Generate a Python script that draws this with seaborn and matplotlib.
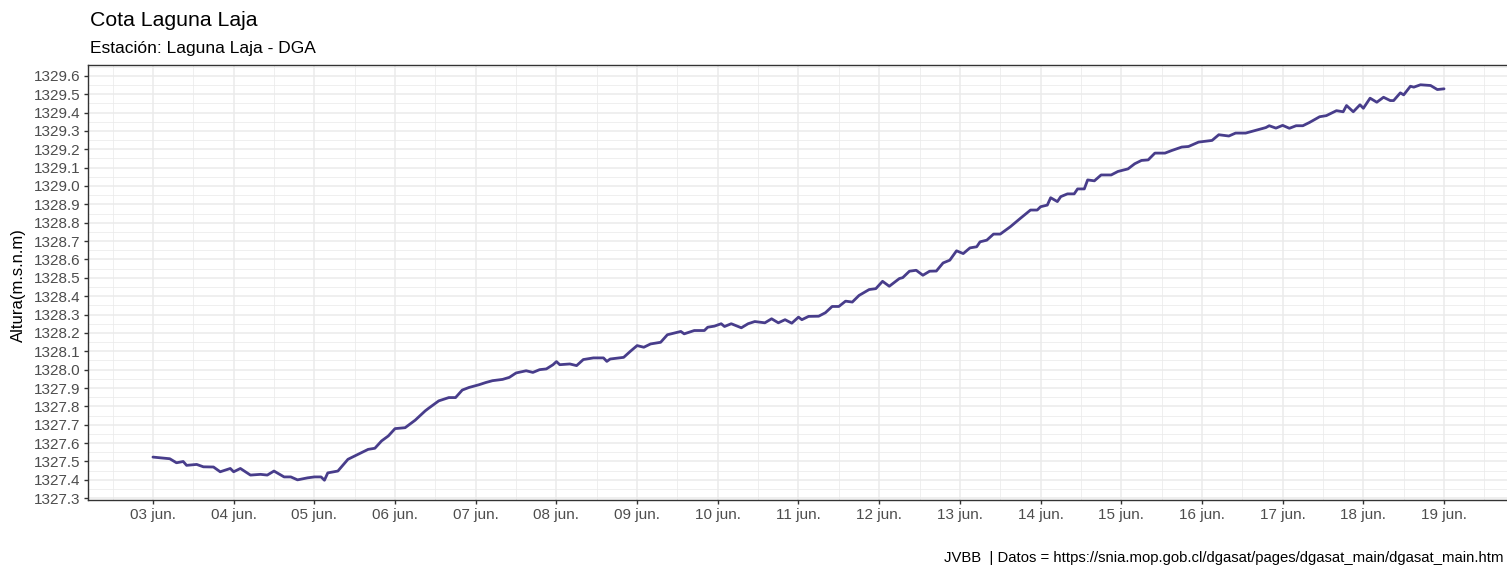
import matplotlib
matplotlib.use("Agg")
import matplotlib.pyplot as plt
import matplotlib.dates as mdates
from matplotlib.ticker import FixedLocator
import numpy as np
import pandas as pd
import seaborn as sns

# Lake level readings: hours since 03 jun 00:00 and water level (m.s.n.m)
hours = [
    0, 5, 7, 9, 10, 13, 15, 18, 20, 23, 24, 26, 29, 32, 34, 36, 39, 41, 43, 46,
    48, 50, 51, 52, 55, 58, 61, 64, 66, 68, 70, 72, 75, 78, 81, 82, 85, 88, 90, 92,
    94, 97, 99, 101, 104, 106, 108, 111, 113, 115, 117, 119, 120, 121, 124, 126, 128, 131, 134, 135,
    136, 140, 142, 144, 146, 148, 151, 153, 157, 158, 161, 164, 165, 167, 169, 170, 172, 175, 177, 179,
    182, 184, 186, 188, 190, 192, 193, 195, 198, 200, 202, 204, 206, 208, 210, 213, 215, 217, 219, 222,
    223, 225, 227, 229, 231, 233, 235, 237, 239, 241, 243, 245, 246, 248, 250, 252, 255, 258, 261, 263,
    264, 266, 267, 269, 270, 272, 274, 275, 277, 278, 280, 282, 285, 287, 290, 292, 294, 296, 298, 301,
    303, 306, 308, 311, 315, 317, 320, 322, 325, 328, 331, 332, 334, 336, 338, 340, 342, 344, 347, 349,
    351, 352, 354, 355, 357, 359, 360, 362, 364, 366, 368, 369, 371, 372, 374, 375, 377, 380, 382, 384,
]
levels = [
    1327.524, 1327.515, 1327.493, 1327.500, 1327.479, 1327.484, 1327.471, 1327.470, 1327.444, 1327.462,
    1327.444, 1327.462, 1327.426, 1327.430, 1327.426, 1327.448, 1327.416, 1327.416, 1327.400, 1327.411,
    1327.416, 1327.416, 1327.398, 1327.438, 1327.448, 1327.512, 1327.539, 1327.566, 1327.572, 1327.612,
    1327.639, 1327.679, 1327.684, 1327.725, 1327.776, 1327.790, 1327.830, 1327.848, 1327.848, 1327.889,
    1327.903, 1327.918, 1327.930, 1327.940, 1327.947, 1327.958, 1327.982, 1327.994, 1327.985, 1328.000,
    1328.004, 1328.027, 1328.044, 1328.027, 1328.031, 1328.022, 1328.055, 1328.064, 1328.064, 1328.045,
    1328.058, 1328.067, 1328.100, 1328.131, 1328.122, 1328.140, 1328.149, 1328.190, 1328.208, 1328.195,
    1328.213, 1328.213, 1328.231, 1328.237, 1328.250, 1328.235, 1328.250, 1328.228, 1328.250, 1328.262,
    1328.255, 1328.277, 1328.255, 1328.272, 1328.253, 1328.286, 1328.272, 1328.290, 1328.291, 1328.310,
    1328.344, 1328.344, 1328.373, 1328.368, 1328.404, 1328.436, 1328.441, 1328.481, 1328.454, 1328.496,
    1328.501, 1328.536, 1328.541, 1328.514, 1328.536, 1328.537, 1328.581, 1328.596, 1328.647, 1328.632,
    1328.663, 1328.669, 1328.696, 1328.705, 1328.738, 1328.738, 1328.778, 1328.824, 1328.869, 1328.869,
    1328.887, 1328.896, 1328.936, 1328.915, 1328.942, 1328.957, 1328.957, 1328.984, 1328.984, 1329.033,
    1329.028, 1329.060, 1329.060, 1329.079, 1329.093, 1329.121, 1329.139, 1329.142, 1329.179, 1329.179,
    1329.193, 1329.212, 1329.215, 1329.239, 1329.248, 1329.279, 1329.272, 1329.288, 1329.288, 1329.303,
    1329.318, 1329.328, 1329.315, 1329.330, 1329.314, 1329.328, 1329.328, 1329.346, 1329.377, 1329.383,
    1329.401, 1329.410, 1329.404, 1329.438, 1329.404, 1329.442, 1329.423, 1329.478, 1329.456, 1329.483,
    1329.465, 1329.465, 1329.507, 1329.496, 1329.543, 1329.538, 1329.551, 1329.547, 1329.525, 1329.529,
]

start = pd.Timestamp("2023-06-03 00:00")
y_ticks = np.round(np.arange(1327.3, 1329.6001, 0.1), 1)
day_labels = [f"{d:02d} jun." for d in range(3, 20)]
day_ticks = pd.date_range(start, periods=len(day_labels), freq="D")

title = "Cota Laguna Laja"
subtitle = "Estación: Laguna Laja - DGA"
y_title = "Altura(m.s.n.m)"
caption = "JVBB  | Datos = https://snia.mop.gob.cl/dgasat/pages/dgasat_main/dgasat_main.htm"

df = pd.DataFrame({
    "fecha": start + pd.to_timedelta(hours, unit="h"),
    "cota": levels,
})

sns.set_theme(style="white")
plt.rcParams["font.family"] = ["Liberation Sans", "DejaVu Sans"]

W, H = 1507, 569
fig = plt.figure(figsize=(W / 100, H / 100), dpi=100)
fig.patch.set_facecolor("white")

left_px, right_px, top_px, bottom_px = 88.4, 1508.6, 65, 500
ax = fig.add_axes([left_px / W, 1 - bottom_px / H,
                   (right_px - left_px) / W, (bottom_px - top_px) / H])

sns.lineplot(data=df, x="fecha", y="cota", ax=ax, color="#483D8B",
             linewidth=2.0, zorder=3)
ax.margins(x=0.05, y=0.05)

# day ticks with half-day minor grid; 0.1 m ticks with 0.05 m minor grid
ax.set_xticks(mdates.date2num(day_ticks))
ax.set_xticklabels(day_labels)
half_days = pd.date_range(start - pd.Timedelta(hours=12), periods=len(day_labels) + 1, freq="D")
ax.xaxis.set_minor_locator(FixedLocator(mdates.date2num(half_days)))
ax.set_yticks(y_ticks)
ax.set_yticklabels([f"{v:.1f}" for v in y_ticks])
ax.yaxis.set_minor_locator(FixedLocator(np.round(np.arange(1327.25, 1329.70, 0.1), 2)))

ax.set_facecolor("white")
ax.grid(which="major", color="#EBEBEB", linewidth=1.1, zorder=0)
ax.grid(which="minor", color="#EBEBEB", linewidth=0.55, zorder=0)
ax.set_axisbelow(True)

for s in ax.spines.values():
    s.set_color("#333333")
    s.set_linewidth(1.0)
    s.set_visible(True)

ax.tick_params(axis="both", which="major", direction="out", length=3.2, width=1.0,
               color="#333333", labelcolor="#4D4D4D", labelsize=11, pad=2.5,
               bottom=True, left=True)
ax.tick_params(axis="both", which="minor", length=0)

ax.set_xlabel("")
ax.set_ylabel("")

fig.text(18 / W, 1 - 285 / H, y_title, rotation=90, ha="center", va="center",
         fontsize=12, color="black")
fig.text(90 / W, 1 - 26.5 / H, title, ha="left", va="baseline", fontsize=15.3, color="black")
fig.text(90 / W, 1 - 53 / H, subtitle, ha="left", va="baseline", fontsize=12.5, color="black")
fig.text(1503 / W, 1 - 562 / H, caption, ha="right", va="baseline", fontsize=10.7, color="black")

fig.savefig("out.png", dpi=100, facecolor="white")
